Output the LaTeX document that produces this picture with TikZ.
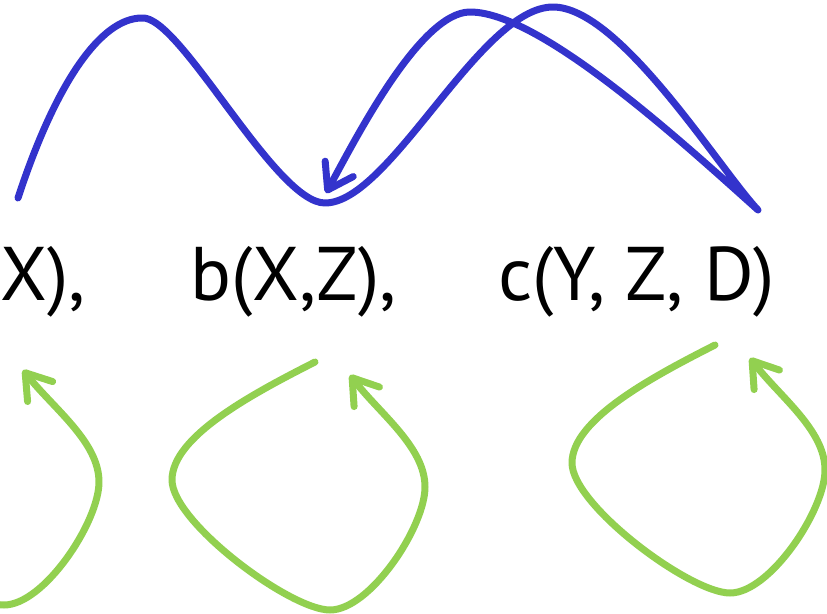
\documentclass[tikz,border=0pt]{standalone}
\usepackage{fontspec}
\setmainfont{PT Sans}
\usepackage{xcolor}
\usepackage{tikz}
\usetikzlibrary{arrows.meta,positioning}

\definecolor{flowblue}{RGB}{51,51,204}
\definecolor{loopgreen}{RGB}{146,208,80}

\begin{document}
\begin{tikzpicture}[x=1pt, y=-1pt,
  term/.style={inner sep=0pt, anchor=base west, font=\fontsize{76}{80}\selectfont},
  flow/.style={draw=flowblue, line width=7pt, line cap=round, line join=round},
  selfloop/.style={draw=loopgreen, line width=7pt, line cap=round, line join=round},
  barb/.style={-{Straight Barb[length=24pt, width=32pt, round]}}
]
\useasboundingbox (0,0) rectangle (827,613);

% Terms
\node[term] (ta) at (0,300) {X),};
\node[term] (tb) at (190,300) {b(X,Z),};
\node[term] (tc) at (498,300) {c(Y, Z, D)};

% Ends of the connectors
\coordinate (flowstart) at (18,198);
\coordinate (flowtip) at (326,193);
\coordinate (aout) at (-11,357);
\coordinate (ain) at (23,370);
\coordinate (bout) at (315,362);
\coordinate (bin) at (350,375);
\coordinate (cout) at (715,345);
\coordinate (cin) at (750,358);

% Blue flow over the terms
\draw[flow, barb] (flowstart) .. controls (55,85) and (100,18) .. (142,18)
  .. controls (180,15) and (275,203) .. (325,203)
  .. controls (390,203) and (480,7) .. (553,7)
  .. controls (620,7) and (720,170) .. (758,210)
  .. controls (680,140) and (540,12) .. (470,12)
  .. controls (420,12) and (355,140) .. (flowtip);

% Green loops under the terms
\draw[selfloop, barb] (aout) .. controls (-76,390) and (-154,437) .. (-154,475)
  .. controls (-154,522) and (-36,605) .. (4,605)
  .. controls (44,605) and (99,522) .. (99,482)
  .. controls (99,442) and (54,409) .. (ain);
\draw[selfloop, barb] (bout) .. controls (250,395) and (172,437) .. (172,480)
  .. controls (172,522) and (290,610) .. (330,610)
  .. controls (370,610) and (425,527) .. (425,487)
  .. controls (425,447) and (380,414) .. (bin);
\draw[selfloop, barb] (cout) .. controls (650,378) and (572,420) .. (572,463)
  .. controls (572,505) and (690,593) .. (730,593)
  .. controls (770,593) and (825,510) .. (825,470)
  .. controls (825,430) and (780,397) .. (cin);

\end{tikzpicture}
\end{document}
